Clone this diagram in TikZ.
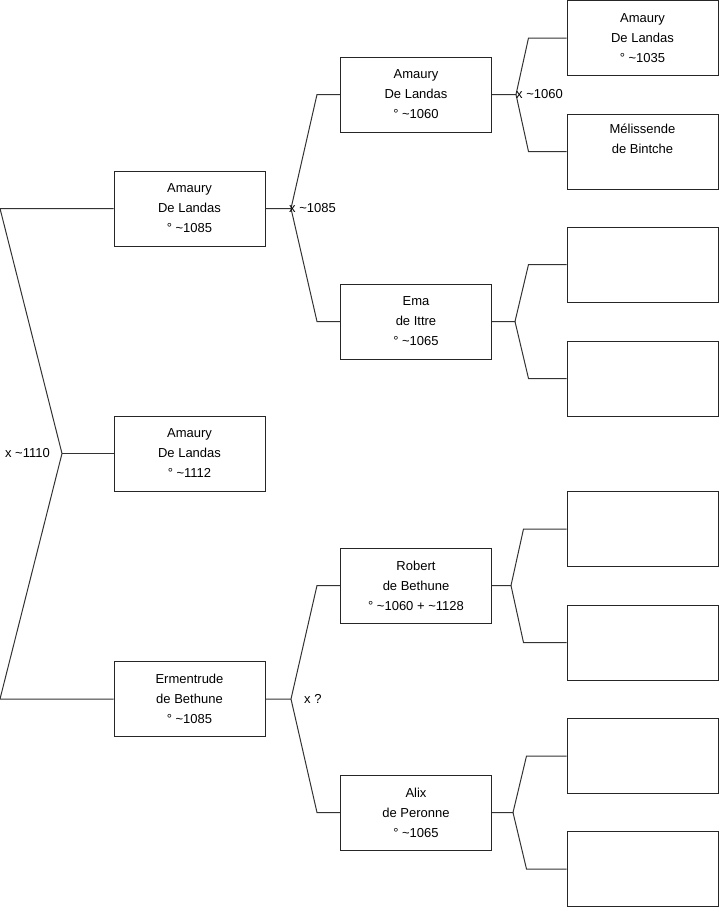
\documentclass[tikz,border=0pt]{standalone}
\usepackage{fontspec}
\setmainfont{Liberation Sans}
\newcommand{\circa}{\textasciitilde}
\tikzset{
  person/.style={draw=black!85, line width=1pt, minimum width=151pt, minimum height=75pt,
    align=center, inner sep=0pt, font=\fontsize{13}{20}\selectfont},
  link/.style={draw=black!80, line width=1pt},
  union/.style={inner sep=0pt, font=\fontsize{13}{20}\selectfont}
}
\begin{document}
\begin{tikzpicture}[x=1pt, y=-1pt]
\useasboundingbox (0,0) rectangle (719,908);
% first generation
\node[person] (amaury1085) at (189.5,208.5) {Amaury\\De Landas\\° \circa1085};
\node[person] (amaury1112) at (189.5,453.5) {Amaury\\De Landas\\° \circa1112};
\node[person] (ermentrude) at (189.5,699) {Ermentrude\\de Bethune\\° \circa1085};
% second generation
\node[person] (amaury1060) at (416,94.5) {Amaury\\De Landas\\° \circa1060};
\node[person] (ema) at (416,321.5) {Ema\\de Ittre\\° \circa1065};
\node[person] (robert) at (416,585.5) {Robert\\de Bethune\\° \circa1060 + \circa1128};
\node[person] (alix) at (416,812.5) {Alix\\de Peronne\\° \circa1065};
% third generation
\node[person] (amaury1035) at (642.5,38) {Amaury\\De Landas\\° \circa1035};
\node[person] (melissende) at (642.5,151.5) {Mélissende\\de Bintche\\\strut};
\node[person] (emaFather) at (642.5,264.5) {};
\node[person] (emaMother) at (642.5,378.5) {};
\node[person] (robertFather) at (642.5,529) {};
\node[person] (robertMother) at (642.5,642.5) {};
\node[person] (alixFather) at (642.5,756) {};
\node[person] (alixMother) at (642.5,869) {};
% unions
\coordinate (margin) at (0,0);
\coordinate (u1110) at (62,453.5);
\coordinate (u1085) at (291,208.5);
\coordinate (uBethune) at (291,699);
\coordinate (u1060) at (516,94.5);
\coordinate (uIttre) at (515,321.5);
\coordinate (uRobert) at (511,585.5);
\coordinate (uAlix) at (513,812.5);
\draw[link] (amaury1085.west) -- (amaury1085.west -| margin) -- (u1110)
  -- (ermentrude.west -| margin) -- (ermentrude.west);
\draw[link] (u1110) -- (amaury1112.west);
\draw[link] (amaury1060.west) -- ++(-23,0) -- (u1085);
\draw[link] (ema.west) -- ++(-23,0) -- (u1085) -- (amaury1085.east);
\draw[link] (robert.west) -- ++(-23,0) -- (uBethune);
\draw[link] (alix.west) -- ++(-23,0) -- (uBethune) -- (ermentrude.east);
\draw[link] (amaury1035.west) -- ++(-38,0) -- (u1060);
\draw[link] (melissende.west) -- ++(-38,0) -- (u1060) -- (amaury1060.east);
\draw[link] (emaFather.west) -- ++(-38,0) -- (uIttre);
\draw[link] (emaMother.west) -- ++(-38,0) -- (uIttre) -- (ema.east);
\draw[link] (robertFather.west) -- ++(-43,0) -- (uRobert);
\draw[link] (robertMother.west) -- ++(-43,0) -- (uRobert) -- (robert.east);
\draw[link] (alixFather.west) -- ++(-40,0) -- (uAlix);
\draw[link] (alixMother.west) -- ++(-40,0) -- (uAlix) -- (alix.east);
% marriage labels
\node[union, anchor=east] (l1110) at ([xshift=-12pt]u1110) {x \circa1110};
\node[union, anchor=west] (l1085) at ([xshift=-2pt]u1085) {x \circa1085};
\node[union, anchor=west] (l1060) at (u1060) {x \circa1060};
\node[union, anchor=west] (lBethune) at ([xshift=13pt]uBethune) {x ?};
\end{tikzpicture}
\end{document}
